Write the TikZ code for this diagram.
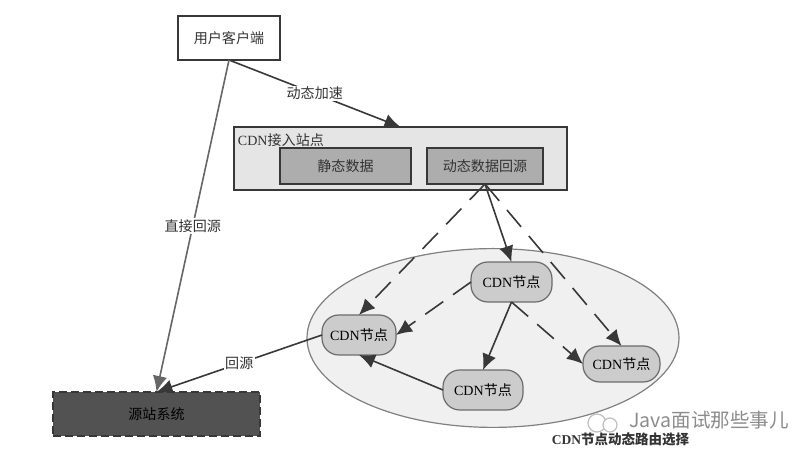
\documentclass[tikz,border=0pt]{standalone}
\usepackage{fontspec}
\setmainfont{Liberation Serif}
\newfontfamily\cjk{Noto Sans CJK SC}
\usetikzlibrary{arrows.meta,shapes.geometric}
\definecolor{lignefonce}{gray}{0.22}
\tikzset{
  boite/.style={draw=lignefonce,line width=0.35mm,inner sep=0,outer sep=0},
  noeudcdn/.style={draw=gray!85!black,line width=0.3mm,fill=black!20,rounded corners=4.2mm,
    minimum height=10mm,inner sep=0,outer sep=0},
  fleche/.style={-{Latex[length=4mm,width=3.6mm]},draw=lignefonce,line width=0.4mm},
  tirets/.style={fleche,dash pattern=on 5.5mm off 3mm},
  etiquette/.style={fill=white,inner sep=1pt,font=\cjk,text=black!80}
}
\begin{document}
\begin{tikzpicture}[x=0.25mm,y=-0.25mm]
    \useasboundingbox (0,0) rectangle (808,462);

    % Ellipse des noeuds
    \node[ellipse,draw=gray,line width=0.3mm,fill=black!6,minimum width=93mm,minimum height=44.7mm,inner sep=0] (zone) at (493,338) {};

    % Site d'acces
    \node[boite,fill=black!10,minimum width=83.25mm,minimum height=15.75mm] (site) at (400.5,158.5) {};
    \node[text=black!80,anchor=west] (titre) at (233,140) {CDN{\cjk 接入站点}};
    \node[boite,fill=black!32,minimum width=32.75mm,minimum height=9mm,font=\cjk,text=black!80] (statique) at (345.5,166) {静态数据};
    \node[boite,fill=black!32,minimum width=29mm,minimum height=9mm,font=\cjk,text=black!80] (dynamique) at (485,166) {动态数据回源};

    % Client et source
    \node[boite,fill=white,minimum width=25.5mm,minimum height=11mm,font=\cjk,text=black!80] (client) at (229,38) {用户客户端};
    \node[boite,fill=black!68,dashed,dash pattern=on 2mm off 1mm,minimum width=51.75mm,minimum height=11mm,font=\cjk] (source) at (156.5,414) {源站系统};

    % Noeuds CDN
    \node[noeudcdn,minimum width=20.25mm] (haut) at (511.5,282) {CDN{\cjk 节点}};
    \node[noeudcdn,minimum width=18.5mm] (gauche) at (359,335) {CDN{\cjk 节点}};
    \node[noeudcdn,minimum width=20mm] (bas) at (483,390) {CDN{\cjk 节点}};
    \node[noeudcdn,minimum width=19.25mm,minimum height=9mm] (droite) at (621.5,364) {CDN{\cjk 节点}};

    % Fleches
    \draw[fleche] (client.south) -- node[etiquette] (lbacc) {动态加速} (site.north);
    \draw[fleche,draw=black!60] (client.south) -- node[etiquette] (lbdirect) {直接回源} (source.north);
    \draw[fleche] (gauche.west) -- node[etiquette] (lbretour) {回源} (source.north);

    \draw[fleche] (dynamique.south) -- (haut.north);
    \draw[tirets] (dynamique.south) -- (gauche.north);
    \draw[tirets] (dynamique.south) -- (droite.north);
    \draw[tirets] (haut.west) -- (gauche.east);
    \draw[fleche] (haut.south) -- (bas.north);
    \draw[tirets] (haut.south) -- (droite.west);
    \draw[fleche] (bas.west) -- (gauche.south);

    % Legende et filigrane
    \node[font=\fontsize{9.6}{11}\selectfont\bfseries,text=black!80,anchor=west] (legende) at (547,439) {CDN{\cjk 节点动态路由选择}};
    \node[circle,draw=black!25,fill=white,line width=0.3mm,minimum size=4.5mm,inner sep=0] (bulleA) at (597,423) {};
    \node[circle,draw=black!25,fill=white,line width=0.3mm,minimum size=3.5mm,inner sep=0] (bulleB) at (610,425) {};
    \node[font=\fontsize{13.9}{16}\selectfont\cjk,text=black!45,anchor=west,inner sep=0] (filigrane) at (629,420) {Java面试那些事儿};
\end{tikzpicture}
\end{document}
